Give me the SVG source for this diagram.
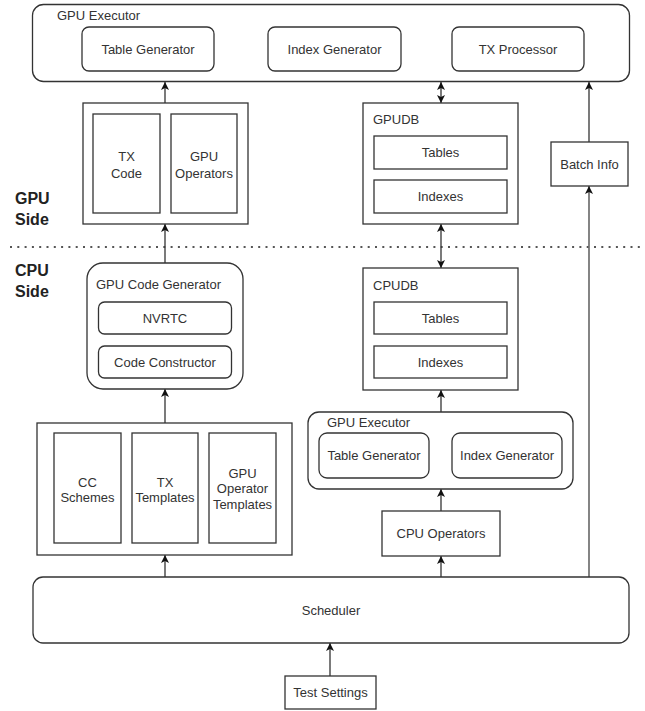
<svg xmlns="http://www.w3.org/2000/svg" width="645" height="711" viewBox="0 0 645 711">
<defs>
<style>
.b{fill:#fff;stroke:#333;stroke-width:1.3}
.t{font-family:"Liberation Sans",Arial,sans-serif;font-size:13px;fill:#333;text-anchor:middle;dominant-baseline:central}
.l{font-family:"Liberation Sans",Arial,sans-serif;font-size:13px;fill:#333;dominant-baseline:central}
.s{font-family:"Liberation Sans",Arial,sans-serif;font-size:16px;font-weight:bold;fill:#222;dominant-baseline:central}
.c{fill:none;stroke:#333;stroke-width:1.3}
.a{marker-end:url(#ah)}
.d{marker-start:url(#ah);marker-end:url(#ah)}
</style>
<marker id="ah" markerUnits="userSpaceOnUse" markerWidth="9" markerHeight="9" refX="8" refY="4.5" orient="auto-start-reverse">
<path d="M0,0.5 L8,4.5 L0,8.5 L2,4.5 z" fill="#111"/>
</marker>
</defs>
<rect width="645" height="711" fill="#fff"/>

<g id="sides">
<line x1="10" y1="247" x2="645" y2="247" stroke="#555" stroke-width="2" stroke-dasharray="2 5.3"/>
<text class="s" x="15" y="198">GPU</text>
<text class="s" x="15" y="219">Side</text>
<text class="s" x="15" y="270">CPU</text>
<text class="s" x="15" y="291">Side</text>
</g>

<g id="connectors">
<line class="c a" x1="165" y1="103" x2="165" y2="82"/>
<line class="c d" x1="441" y1="103" x2="441" y2="82"/>
<line class="c a" x1="589" y1="142" x2="589" y2="82"/>
<line class="a" x1="589" y1="577" x2="589" y2="186" stroke="#666" stroke-width="1.6"/>
<line class="c a" x1="165" y1="263" x2="165" y2="224"/>
<line class="c d" x1="441" y1="268" x2="441" y2="224"/>
<line class="c a" x1="165" y1="423" x2="165" y2="389"/>
<line class="c a" x1="441" y1="412" x2="441" y2="390"/>
<line class="c a" x1="441" y1="511" x2="441" y2="489"/>
<line class="c a" x1="165" y1="577" x2="165" y2="555"/>
<line class="c a" x1="441" y1="577" x2="441" y2="556"/>
<line class="c a" x1="330" y1="676" x2="330" y2="643"/>
</g>

<g id="gpu-executor-top">
<rect class="b" x="32.5" y="4.5" width="597" height="77" rx="11"/>
<text class="l" x="57" y="15">GPU Executor</text>
<g id="table-gen-top"><rect class="b" x="82" y="27" width="132" height="44" rx="7"/><text class="t" x="148" y="49">Table Generator</text></g>
<g id="index-gen-top"><rect class="b" x="268" y="27" width="133" height="44" rx="7"/><text class="t" x="334.5" y="49">Index Generator</text></g>
<g id="tx-processor"><rect class="b" x="452" y="27" width="132" height="44" rx="7"/><text class="t" x="518" y="49">TX Processor</text></g>
</g>

<g id="gpu-code">
<rect class="b" x="83" y="103" width="165" height="121"/>
<g id="tx-code"><rect class="b" x="93" y="114" width="67" height="99"/><text class="t" x="126.5" y="156">TX</text><text class="t" x="126.5" y="173">Code</text></g>
<g id="gpu-operators"><rect class="b" x="171" y="114" width="66" height="99"/><text class="t" x="204" y="156">GPU</text><text class="t" x="204" y="173">Operators</text></g>
</g>

<g id="gpudb">
<rect class="b" x="363" y="103" width="155" height="121"/>
<text class="l" x="373" y="119">GPUDB</text>
<g id="gpudb-tables"><rect class="b" x="374" y="136" width="133" height="33"/><text class="t" x="440.5" y="152.5">Tables</text></g>
<g id="gpudb-indexes"><rect class="b" x="374" y="180" width="133" height="33"/><text class="t" x="440.5" y="196.5">Indexes</text></g>
</g>

<g id="batch-info">
<rect class="b" x="551" y="142" width="77" height="44"/>
<text class="t" x="589.5" y="164">Batch Info</text>
</g>

<g id="gpu-code-generator">
<rect class="b" x="87" y="263" width="156" height="126" rx="16"/>
<text class="l" x="96" y="284">GPU Code Generator</text>
<g id="nvrtc"><rect class="b" x="98.5" y="302" width="133" height="32" rx="6"/><text class="t" x="165" y="318">NVRTC</text></g>
<g id="code-constructor"><rect class="b" x="98.5" y="346" width="133" height="32" rx="6"/><text class="t" x="165" y="362">Code Constructor</text></g>
</g>

<g id="cpudb">
<rect class="b" x="363" y="268" width="155" height="122"/>
<text class="l" x="373" y="285">CPUDB</text>
<g id="cpudb-tables"><rect class="b" x="374" y="302" width="133" height="32"/><text class="t" x="440.5" y="318">Tables</text></g>
<g id="cpudb-indexes"><rect class="b" x="374" y="346" width="133" height="32"/><text class="t" x="440.5" y="362">Indexes</text></g>
</g>

<g id="templates">
<rect class="b" x="37" y="423" width="255" height="132"/>
<g id="cc-schemes"><rect class="b" x="54" y="433" width="67" height="110"/><text class="t" x="87.5" y="482">CC</text><text class="t" x="87.5" y="497.5">Schemes</text></g>
<g id="tx-templates"><rect class="b" x="132" y="433" width="66" height="110"/><text class="t" x="165" y="482">TX</text><text class="t" x="165" y="497.5">Templates</text></g>
<g id="gpu-operator-templates"><rect class="b" x="209" y="433" width="67" height="110"/><text class="t" x="242.5" y="473">GPU</text><text class="t" x="242.5" y="488.5">Operator</text><text class="t" x="242.5" y="504">Templates</text></g>
</g>

<g id="gpu-executor-cpu">
<rect class="b" x="308" y="412" width="265" height="77" rx="11"/>
<text class="l" x="327" y="422">GPU Executor</text>
<g id="table-gen-cpu"><rect class="b" x="319" y="433" width="110" height="45" rx="8"/><text class="t" x="374" y="455.5">Table Generator</text></g>
<g id="index-gen-cpu"><rect class="b" x="452" y="433" width="110" height="45" rx="8"/><text class="t" x="507" y="455.5">Index Generator</text></g>
</g>

<g id="cpu-operators">
<rect class="b" x="382" y="511" width="118" height="45"/>
<text class="t" x="441" y="533">CPU Operators</text>
</g>

<g id="scheduler">
<rect class="b" x="33" y="577" width="596" height="66" rx="10"/>
<text class="t" x="331" y="610">Scheduler</text>
</g>

<g id="test-settings">
<rect class="b" x="285" y="676" width="91" height="33"/>
<text class="t" x="330.5" y="692.5">Test Settings</text>
</g>
</svg>
